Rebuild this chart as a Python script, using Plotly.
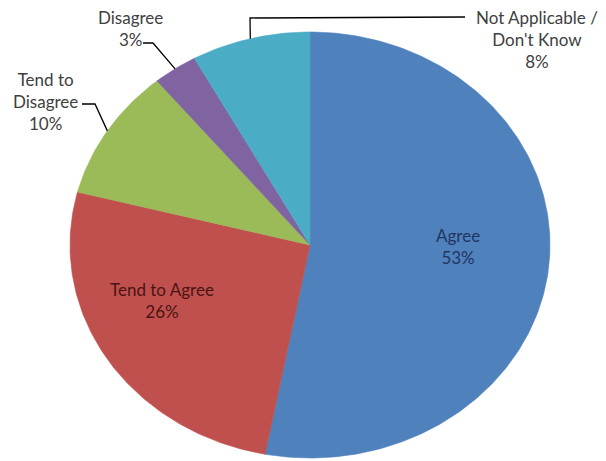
import numpy as np
import plotly.graph_objects as go

# ---- data ----
categories = ["Agree", "Tend to Agree", "Tend to Disagree", "Disagree", "Not Applicable / Don't Know"]
values = [53, 26, 10, 3, 8]
colors = ["#4F81BD", "#C0504D", "#9BBB59", "#8064A2", "#4BACC6"]
label_texts = ["Agree<br>53%", "Tend to Agree<br>26%", "Tend to<br>Disagree<br>10%",
               "Disagree<br>3%", "Not Applicable /<br>Don't Know<br>8%"]

PAGE_OFF = 8                 # default body margin of the html page
W, H = 606 - PAGE_OFF, 461 - PAGE_OFF
CX, CY, RX, RY = 310, 245, 240, 213  # page-pixel geometry of the elliptical pie


def to_data(px, py):
    return (px - CX) / RX, (CY - py) / RY


fig = go.Figure()
total = sum(values)
start = 0.0
mids = []
for cat, v, col in zip(categories, values, colors):
    a0 = start / total * 2 * np.pi
    a1 = (start + v) / total * 2 * np.pi
    mids.append((a0 + a1) / 2)
    t = np.linspace(a0, a1, max(int(v * 4), 8))
    xs = np.concatenate([[0], np.sin(t), [0]])
    ys = np.concatenate([[0], np.cos(t), [0]])
    fig.add_trace(go.Scatter(x=xs, y=ys, fill="toself", fillcolor=col, mode="lines",
                             line=dict(width=0.6, color=col), name=cat, hoverinfo="name",
                             showlegend=False))
    start += v

# leader lines: from label elbow to the slice edge midpoint
leaders = {
    2: [(82, 104), (95, 104)],
    3: [(143, 43), (153, 43)],
    4: [(465, 17), (250, 18)],
}
for idx, pts in leaders.items():
    m = mids[idx]
    ex, ey = np.sin(m), np.cos(m)
    xs = [to_data(*p)[0] for p in pts] + [ex]
    ys = [to_data(*p)[1] for p in pts] + [ey]
    fig.add_trace(go.Scatter(x=xs, y=ys, mode="lines", line=dict(color="#000000", width=1.3),
                             hoverinfo="skip", showlegend=False))

label_pos = [(458, 246), (162, 300), (45, 101), (130, 28), (537, 39)]
label_colors = ["#1F3660", "#4A1412", "#404040", "#404040", "#404040"]
for txt, (px, py), tc in zip(label_texts, label_pos, label_colors):
    x, y = to_data(px, py)
    fig.add_annotation(x=x, y=y, xref="x", yref="y", text=txt, showarrow=False,
                       font=dict(family="Lato", size=17, color=tc), align="center",
                       borderpad=0)

fig.update_xaxes(visible=False, range=[(PAGE_OFF - CX) / RX, (606 - CX) / RX], fixedrange=True)
fig.update_yaxes(visible=False, range=[(CY - 461) / RY, (CY - PAGE_OFF) / RY], fixedrange=True)
fig.update_layout(width=W, height=H, margin=dict(l=0, r=0, t=0, b=0),
                  paper_bgcolor="white", plot_bgcolor="white")
fig.write_html("out.html")
